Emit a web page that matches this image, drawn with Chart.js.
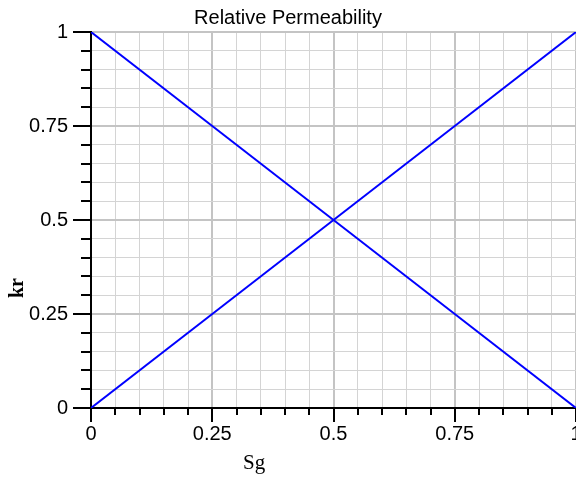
<!DOCTYPE html>
<html>
<head>
<meta charset="UTF-8">
<script src="https://cdn.jsdelivr.net/npm/chart.js@4.4.0/dist/chart.umd.min.js"></script>
<style>
  * { margin: 0; padding: 0; box-sizing: border-box; }
  body { background: #fff; width: 576px; height: 477px; overflow: hidden; }
  .wrap { position: relative; width: 576px; height: 477px; }
  .axis-title { position: absolute; font-family: 'Liberation Serif', 'Times New Roman', serif; color: #000; white-space: nowrap; }
  #sg { left: 243px; top: 450px; font-size: 21px; line-height: 24px; }
  #kr { left: 4px; top: 274px; font-size: 20px; font-weight: bold; line-height: 24px; transform-origin: 12px 12px; transform: rotate(-90deg); }
</style>
</head>
<body>
<div class="wrap">
  <canvas id="chart" width="576" height="477"></canvas>
  <div class="axis-title" id="sg">Sg</div>
  <div class="axis-title" id="kr">kr</div>
</div>
<script>
  // gas saturation and the two relative permeability curves
  const sg = [0, 0.25, 0.5, 0.75, 1];
  const krg = [0, 0.25, 0.5, 0.75, 1];
  const krw = [1, 0.75, 0.5, 0.25, 0];
  const tickLabels = ['0', '0.25', '0.5', '0.75', '1'];

  const isMajor = v => Math.abs(v * 4 - Math.round(v * 4)) < 1e-6;
  const label = v => isMajor(v) ? tickLabels[Math.round(v * 4)] : '';

  const tickFont = { family: "'Liberation Sans', Arial, sans-serif", size: 20 };

  // small ticks between the labelled ones
  const minorTicks = {
    id: 'minorTicks',
    afterDraw(chart) {
      const ctx = chart.ctx;
      const xs = chart.scales.x, ys = chart.scales.y;
      ctx.save();
      ctx.strokeStyle = '#000';
      ctx.lineWidth = 2;
      ctx.beginPath();
      xs.ticks.forEach(t => {
        if (isMajor(t.value)) return;
        const px = Math.round(xs.getPixelForValue(t.value));
        ctx.moveTo(px, xs.top);
        ctx.lineTo(px, xs.top + 7);
      });
      ys.ticks.forEach(t => {
        if (isMajor(t.value)) return;
        const py = Math.round(ys.getPixelForValue(t.value));
        ctx.moveTo(ys.right - 10, py);
        ctx.lineTo(ys.right, py);
      });
      ctx.stroke();
      ctx.restore();
    }
  };

  const pts = ys => sg.map((x, i) => ({ x: x, y: ys[i] }));

  new Chart(document.getElementById('chart'), {
    type: 'scatter',
    data: {
      datasets: [
        { data: pts(krw), showLine: true, borderColor: '#0000ff', borderWidth: 2, pointRadius: 0 },
        { data: pts(krg), showLine: true, borderColor: '#0000ff', borderWidth: 2, pointRadius: 0 }
      ]
    },
    options: {
      responsive: false,
      animation: false,
      devicePixelRatio: 1,
      layout: { padding: 0 },
      plugins: {
        legend: { display: false },
        tooltip: { enabled: false },
        title: {
          display: true,
          text: 'Relative Permeability',
          color: '#000',
          font: { family: "'Liberation Sans', Arial, sans-serif", size: 20, weight: 'normal' },
          padding: { top: 6, bottom: 2 }
        }
      },
      scales: {
        x: {
          type: 'linear',
          min: 0, max: 1,
          afterFit(s) { s.height = 69; s.paddingLeft = 0; s.paddingRight = 0; },
          ticks: {
            stepSize: 0.05, autoSkip: false, maxRotation: 0,
            callback: label, color: '#000', font: tickFont, padding: 0
          },
          grid: {
            color: c => isMajor(c.tick.value) ? '#c4c4c4' : '#d4d4d4',
            lineWidth: c => isMajor(c.tick.value) ? 2 : 1,
            tickColor: c => isMajor(c.tick.value) ? '#000' : 'rgba(0,0,0,0)',
            tickLength: 14,
            tickWidth: 2
          },
          border: { color: '#000', width: 2 }
        },
        y: {
          type: 'linear',
          min: 0, max: 1,
          afterFit(s) { s.width = 91; s.paddingTop = 0; s.paddingBottom = 0; },
          ticks: {
            stepSize: 0.05, autoSkip: false,
            callback: label, color: '#000', font: tickFont, padding: 5
          },
          grid: {
            color: c => isMajor(c.tick.value) ? '#c4c4c4' : '#d4d4d4',
            lineWidth: c => isMajor(c.tick.value) ? 2 : 1,
            tickColor: c => isMajor(c.tick.value) ? '#000' : 'rgba(0,0,0,0)',
            tickLength: 18,
            tickWidth: 2
          },
          border: { color: '#000', width: 2 }
        }
      }
    },
    plugins: [minorTicks]
  });
</script>
</body>
</html>
